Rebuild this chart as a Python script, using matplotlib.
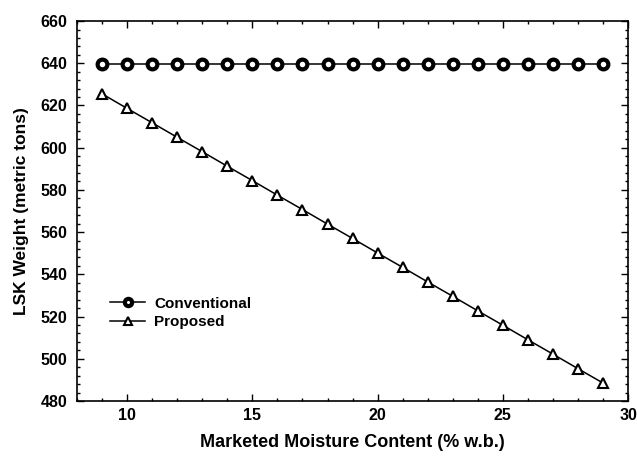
import matplotlib
matplotlib.use('Agg')
import matplotlib.pyplot as plt
from matplotlib.ticker import MultipleLocator

plt.rcParams['font.family'] = ['Liberation Sans', 'DejaVu Sans']
plt.rcParams['font.weight'] = 'bold'

# data
moisture = [9, 10, 11, 12, 13, 14, 15, 16, 17, 18, 19,
            20, 21, 22, 23, 24, 25, 26, 27, 28, 29]
conventional = [639.5] * 21
proposed = [625.5, 618.6, 611.8, 604.9, 598.1, 591.2, 584.4, 577.5, 570.7,
            563.8, 557.0, 550.1, 543.3, 536.4, 529.6, 522.7, 515.9, 509.0,
            502.2, 495.3, 488.5]

fig = plt.figure(figsize=(6.37, 4.58), dpi=100)
ax = fig.add_axes([0.121, 0.1245, 0.865, 0.8295])

ax.plot(moisture, conventional, color='black', lw=1.1, marker='o',
        markersize=7, markerfacecolor='white', markeredgecolor='black',
        markeredgewidth=3, label='Conventional')
ax.plot(moisture, proposed, color='black', lw=1.1, marker='^',
        markersize=7.5, markerfacecolor='white', markeredgecolor='black',
        markeredgewidth=1.5, label='Proposed')

ax.set_xlim(8, 30)
ax.set_ylim(480, 660)
ax.xaxis.set_major_locator(MultipleLocator(5))
ax.xaxis.set_minor_locator(MultipleLocator(1))
ax.yaxis.set_major_locator(MultipleLocator(20))
ax.yaxis.set_minor_locator(MultipleLocator(4))
ax.tick_params(which='both', direction='in', top=True, right=True,
               labelsize=11.5, width=1)
ax.tick_params(which='major', length=5, pad=7)
ax.tick_params(axis='x', which='major', pad=5)
ax.tick_params(which='minor', length=2.5)
for lab in ax.get_xticklabels() + ax.get_yticklabels():
    lab.set_fontweight('bold')
for sp in ax.spines.values():
    sp.set_linewidth(1.2)

ax.set_xlabel('Marketed Moisture Content (% w.b.)', fontsize=13,
              fontweight='bold', labelpad=8)
ax.set_ylabel('LSK Weight (metric tons)', fontsize=12.5,
              fontweight='bold', labelpad=8)

leg = ax.legend(loc='center left', bbox_to_anchor=(0.06, 0.232),
                frameon=False, fontsize=11, handlelength=2.3,
                handletextpad=0.6, labelspacing=0.3, borderpad=0,
                borderaxespad=0, markerscale=0.75)
for t in leg.get_texts():
    t.set_fontweight('bold')

fig.savefig('out.png', dpi=100)
